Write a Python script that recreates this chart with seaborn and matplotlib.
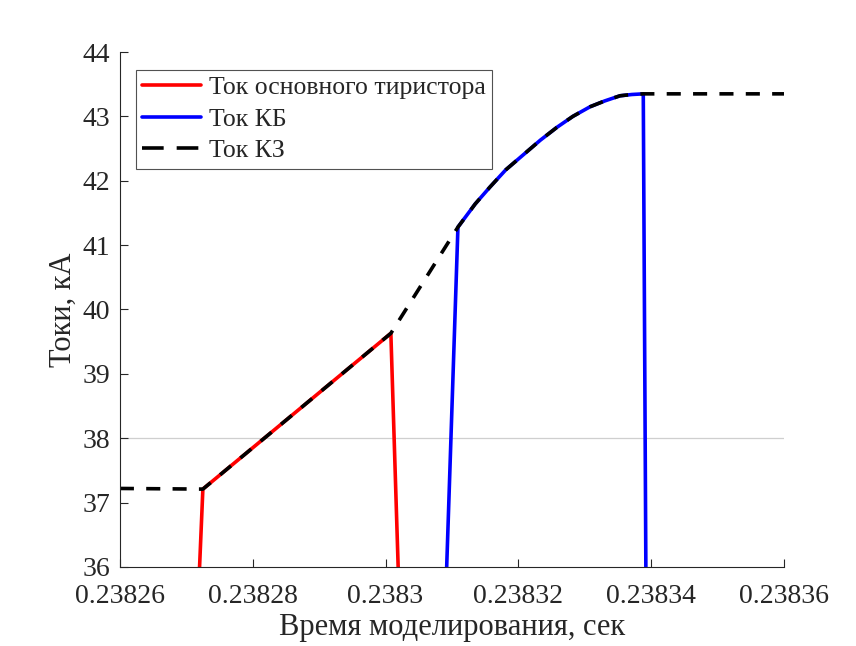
import matplotlib
matplotlib.use("Agg")
import matplotlib.pyplot as plt
import seaborn as sns
import pandas as pd

sns.set_theme(style="white")
plt.rcParams["font.family"] = ["Liberation Serif", "DejaVu Serif"]

# Ток основного тиристора
t_main = [0.23827192, 0.2382725, 0.2383008, 0.23830196]
i_main = [35.8, 37.21, 39.63, 35.8]

# Ток КБ
t_kb = [0.23830914, 0.2383109, 0.2383135, 0.2383157, 0.2383181, 0.2383207,
        0.2383233, 0.2383258, 0.2383282, 0.2383308, 0.2383330, 0.2383353,
        0.2383371, 0.2383388, 0.2383392]
i_kb = [35.8, 41.28, 41.64, 41.90, 42.17, 42.40,
        42.63, 42.83, 43.00, 43.15, 43.24, 43.32,
        43.34, 43.35, 35.8]

# Ток КЗ
t_kz = [0.23826, 0.2382725, 0.2383008, 0.2383109, 0.2383135, 0.2383157,
        0.2383181, 0.2383207, 0.2383233, 0.2383258, 0.2383282, 0.2383308,
        0.2383330, 0.2383353, 0.2383371, 0.2383388, 0.23836]
i_kz = [37.22, 37.21, 39.63, 41.28, 41.64, 41.90,
        42.17, 42.40, 42.63, 42.83, 43.00, 43.15,
        43.24, 43.32, 43.34, 43.35, 43.35]

x_ticks = [0.23826, 0.23828, 0.23830, 0.23832, 0.23834, 0.23836]
x_labels = ["0.23826", "0.23828", "0.2383", "0.23832", "0.23834", "0.23836"]
y_ticks = [36, 37, 38, 39, 40, 41, 42, 43, 44]

labels = ["Ток основного тиристора", "Ток КБ", "Ток КЗ"]

df_main = pd.DataFrame({"t": t_main, "i": i_main})
df_kb = pd.DataFrame({"t": t_kb, "i": i_kb})
df_kz = pd.DataFrame({"t": t_kz, "i": i_kz})

fig = plt.figure(figsize=(8.56, 6.46), dpi=100)
ax = fig.add_axes([0.140, 0.1223, 0.776, 0.7972])

# single reference line at 38 kA
ax.axhline(38, color="#cfcfcf", lw=0.9, zorder=0.5)

sns.lineplot(data=df_main, x="t", y="i", sort=False, estimator=None,
             color="#ff0000", lw=2.6, ax=ax, label=labels[0])
sns.lineplot(data=df_kb, x="t", y="i", sort=False, estimator=None,
             color="#0000ff", lw=2.6, ax=ax, label=labels[1])
sns.lineplot(data=df_kz, x="t", y="i", sort=False, estimator=None,
             color="black", lw=2.6, ax=ax, label=labels[2])
ax.lines[-1].set_dashes((3.9, 3.4))

ax.set_xlim(0.23826, 0.23836)
ax.set_ylim(36, 44)
ax.set_xticks(x_ticks)
ax.set_xticklabels(x_labels)
ax.set_yticks(y_ticks)
ax.set_yticklabels([str(v) for v in y_ticks])

for s in ["top", "right"]:
    ax.spines[s].set_visible(False)
for s in ["left", "bottom"]:
    ax.spines[s].set_color("#262626")
    ax.spines[s].set_linewidth(0.8)

ax.tick_params(direction="in", length=6, width=0.8, colors="#262626",
               labelsize=20, left=True, bottom=True)
ax.tick_params(axis="x", pad=12)
ax.tick_params(axis="y", pad=7)
ax.set_xlabel("Время моделирования, сек", fontsize=22, color="#262626", labelpad=3)
ax.set_ylabel("Токи, кА", fontsize=22, color="#262626", labelpad=3)

leg = ax.legend(loc="upper left", bbox_to_anchor=(0.024, 0.965), borderaxespad=0,
                fontsize=18.5, frameon=True, fancybox=False, handlelength=2.3,
                borderpad=0.25, labelspacing=0.33, handletextpad=0.3)
leg.get_frame().set_edgecolor("#262626")
leg.get_frame().set_linewidth(0.8)
for txt in leg.get_texts():
    txt.set_color("#262626")
leg.get_lines()[-1].set_dashes((6.0, 3.6))

fig.savefig("out.png", dpi=100, facecolor="white")
